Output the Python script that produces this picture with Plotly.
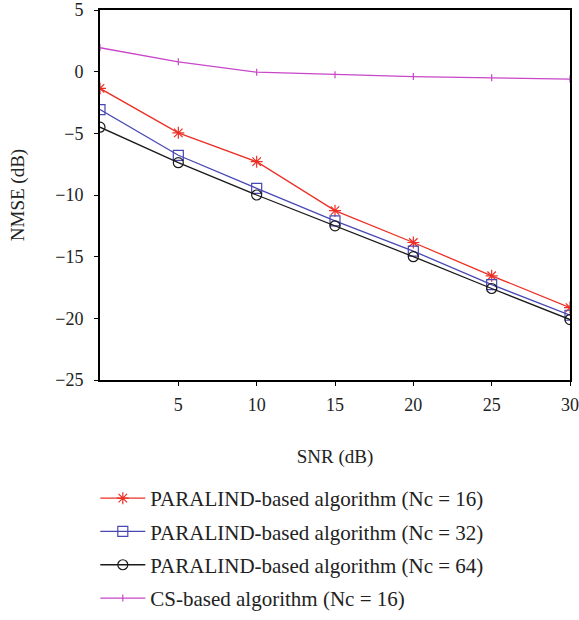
import plotly.graph_objects as go

snr = [0, 5, 10, 15, 20, 25, 30]
nc16 = [-1.36, -4.96, -7.3, -11.27, -13.85, -16.55, -19.13]
nc32 = [-3.07, -6.78, -9.46, -12.1, -14.55, -17.26, -19.75]
nc64 = [-4.5, -7.38, -10.0, -12.5, -15.0, -17.58, -20.1]
cs16 = [1.94, 0.8, -0.04, -0.25, -0.4, -0.5, -0.6]

names = ["PARALIND-based algorithm (Nc = 16)",
         "PARALIND-based algorithm (Nc = 32)",
         "PARALIND-based algorithm (Nc = 64)",
         "CS-based algorithm (Nc = 16)"]
x_ticks = [5, 10, 15, 20, 25, 30]

fig = go.Figure()
specs = [
    (nc16, "#ec2f25", "asterisk-open", 10),
    (nc32, "#4848b4", "square-open", 10),
    (nc64, "#1a1a1a", "circle-open", 10),
    (cs16, "#c846c8", "line-ns-open", 5),
]
for i, (ys, col, sym, sz) in enumerate(specs):
    fig.add_trace(go.Scatter(
        x=snr, y=ys, mode="lines+markers", name=names[i],
        legendgroup=str(i),
        line=dict(color=col, width=1.3),
        marker=dict(symbol=sym, size=sz, color=col, line=dict(width=1.2, color=col)),
    ))

font = "Liberation Serif"
fig.update_layout(
    width=579, height=620,
    margin=dict(l=100, r=9, t=10, b=240, autoexpand=False),
    plot_bgcolor="white", paper_bgcolor="white",
    font=dict(family=font, size=18, color="#222"),
    showlegend=True,
    legend=dict(x=-0.01, y=1 - 478 / 620, xref="paper", yref="container",
                xanchor="left", yanchor="top",
                orientation="v", font=dict(family=font, size=21, color="#222"),
                itemwidth=45,
                tracegroupgap=3, bgcolor="rgba(0,0,0,0)"),
    xaxis=dict(range=[0, 30], tickvals=x_ticks, showgrid=False, zeroline=False,
               showline=True, linecolor="black", linewidth=2, mirror=True,
               ticks="outside", ticklen=4, tickcolor="black", ticklabelstandoff=3,
               title=dict(text="SNR (dB)", standoff=36, font=dict(size=19))),
    yaxis=dict(range=[-25, 5], dtick=5, showgrid=False, zeroline=False,
               showline=True, linecolor="black", linewidth=2, mirror=True,
               ticks="outside", ticklen=4, tickcolor="black", ticklabelstandoff=7,
               title=dict(text="NMSE (dB)", standoff=26, font=dict(size=19))),
)
fig.write_html("out.html")
